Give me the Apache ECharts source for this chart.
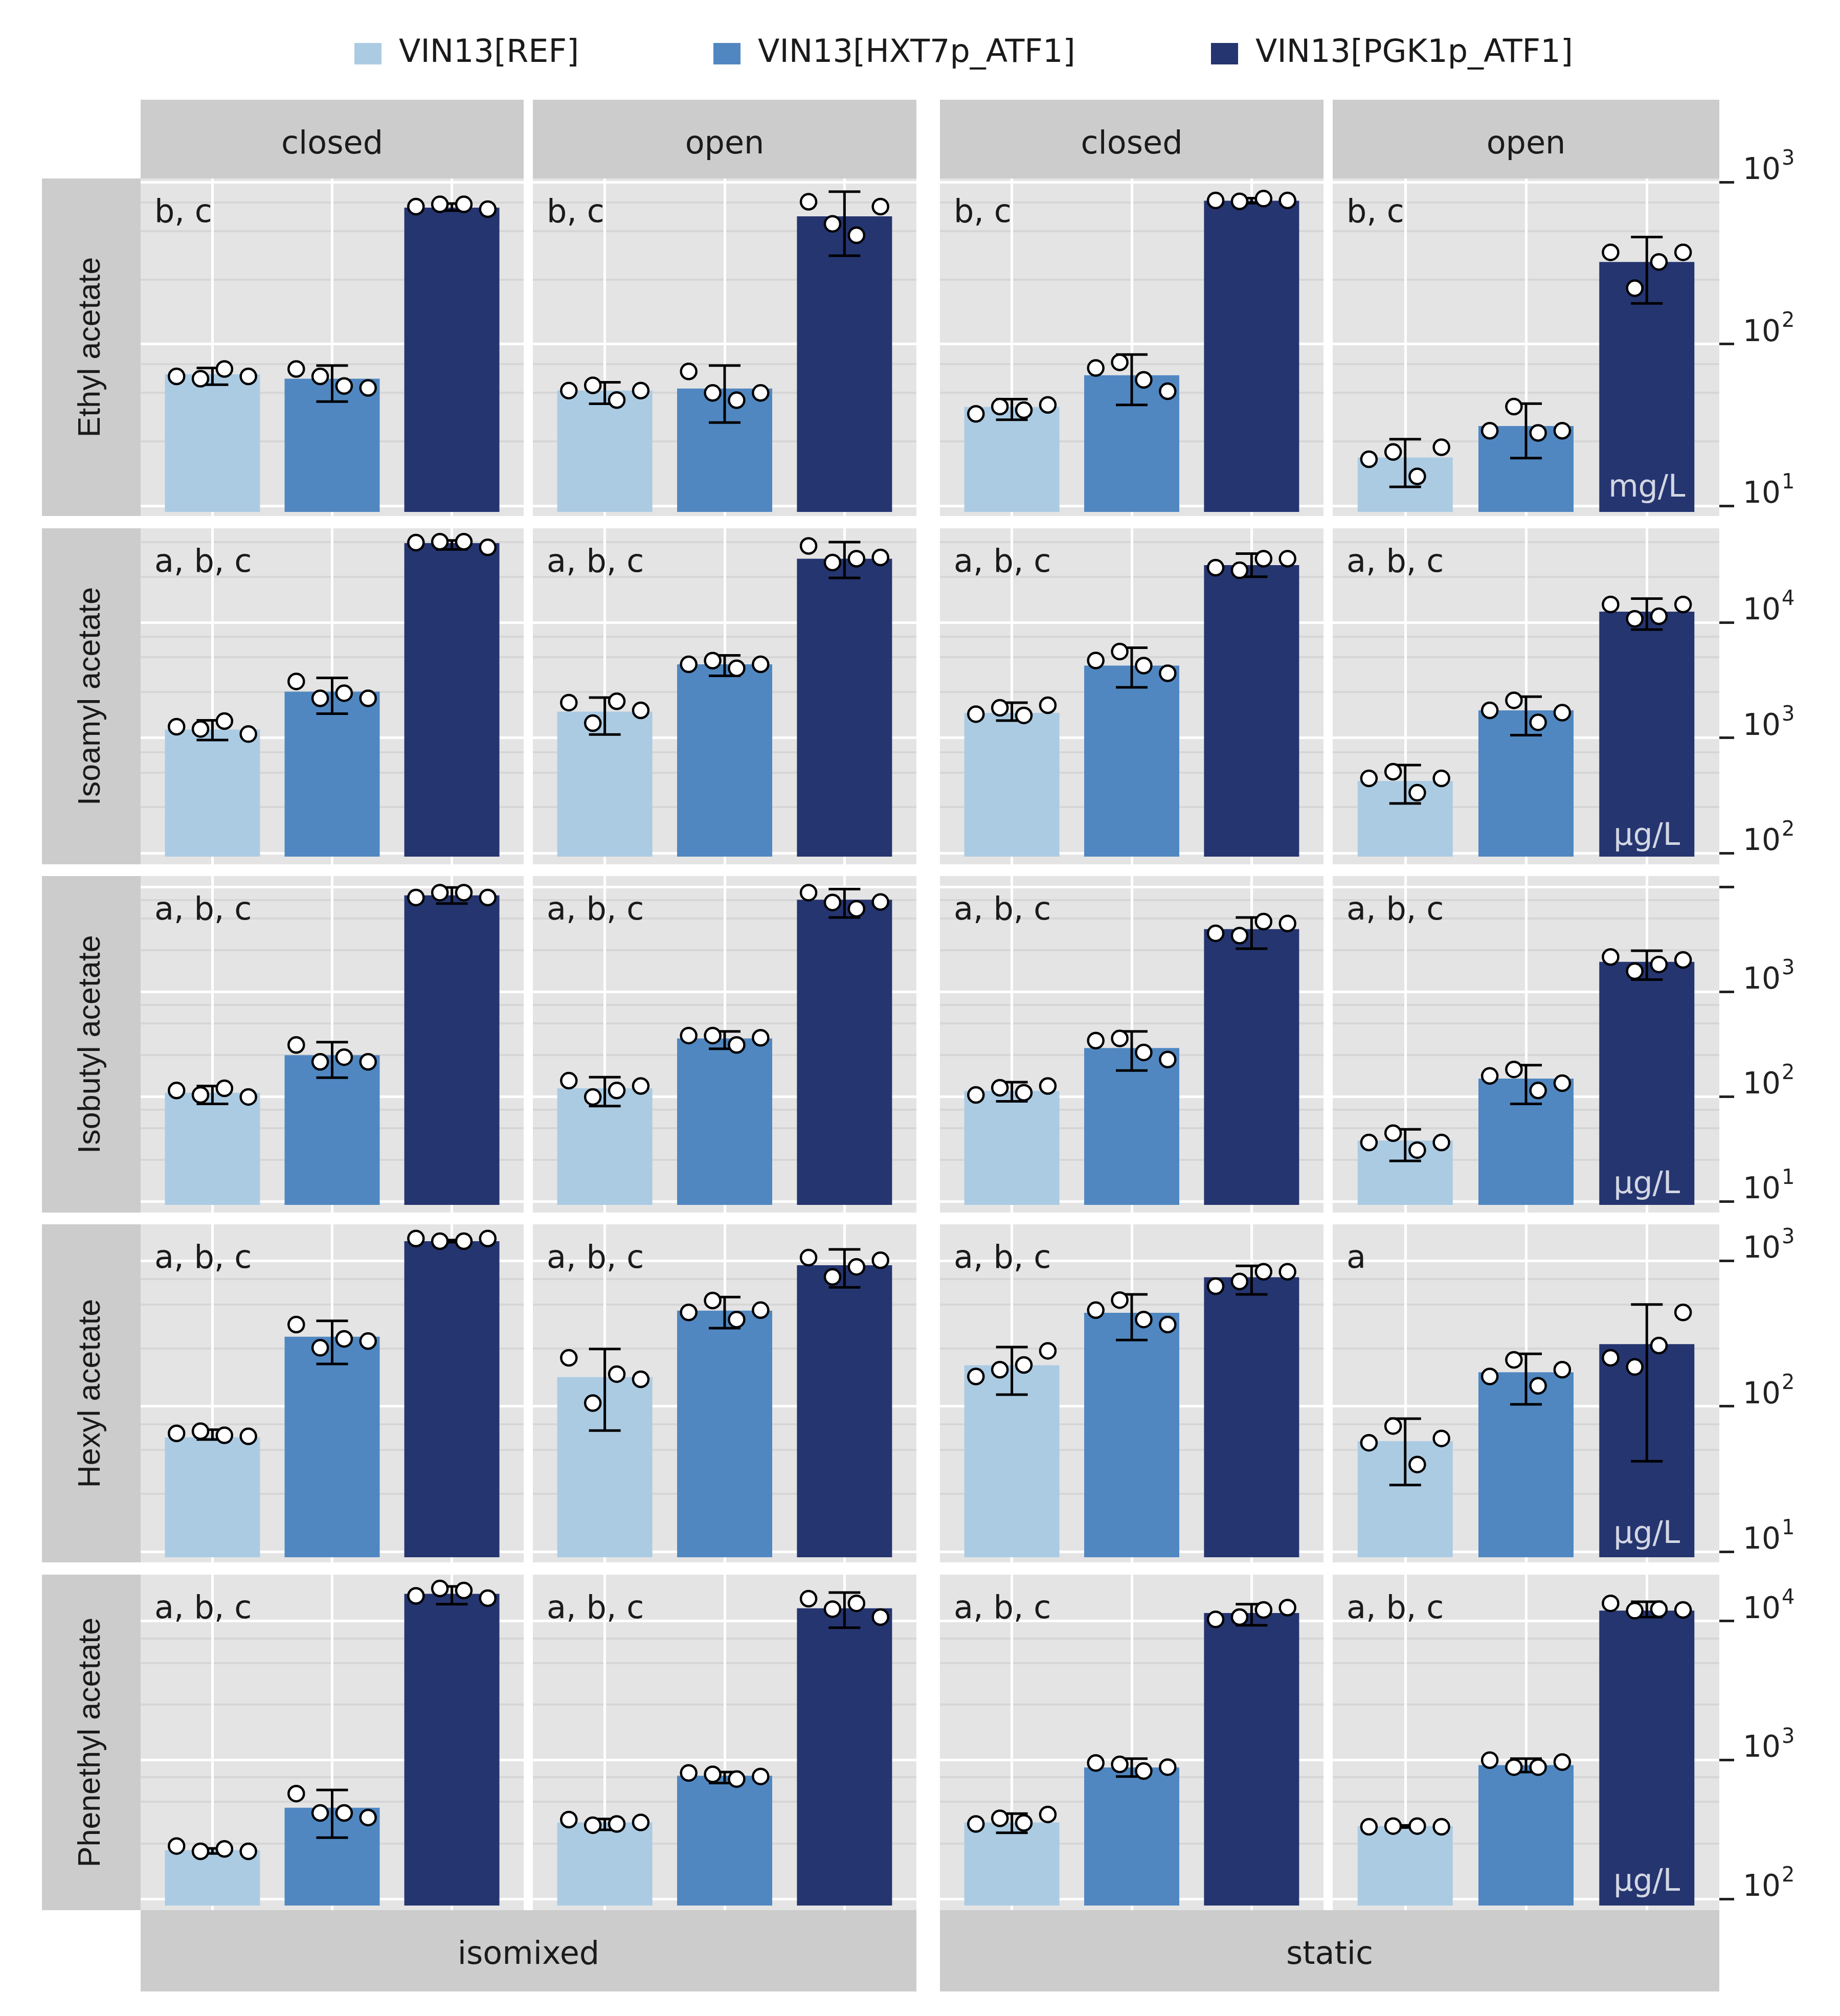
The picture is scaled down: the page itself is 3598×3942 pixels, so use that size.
<!DOCTYPE html>
<html><head><meta charset="utf-8">
<script src="https://cdn.jsdelivr.net/npm/echarts@6/dist/echarts.min.js"></script>
<style>html,body{margin:0;padding:0;background:#fff}#c{width:3598px;height:3942px}</style>
</head><body><div id="c"></div>
<script>
// ---------------- DATA ----------------
const compounds = ['Ethyl acetate', 'Isoamyl acetate', 'Isobutyl acetate', 'Hexyl acetate', 'Phenethyl acetate'];
const columnConditions = ['closed', 'open', 'closed', 'open'];
const modes = ['isomixed', 'static'];
const strains = ['VIN13[REF]', 'VIN13[HXT7p_ATF1]', 'VIN13[PGK1p_ATF1]'];
const units = ['mg/L', 'µg/L', 'µg/L', 'µg/L', 'µg/L'];
const letters = [
  ['b, c', 'b, c', 'b, c', 'b, c'],
  ['a, b, c', 'a, b, c', 'a, b, c', 'a, b, c'],
  ['a, b, c', 'a, b, c', 'a, b, c', 'a, b, c'],
  ['a, b, c', 'a, b, c', 'a, b, c', 'a'],
  ['a, b, c', 'a, b, c', 'a, b, c', 'a, b, c']
];
// tick exponents (10^n) per row, and which of them carry a label
const tickExponents = [[1, 2, 3], [2, 3, 4], [1, 2, 3, 4], [1, 2, 3], [2, 3, 4]];
const labeledExponents = [[1, 2, 3], [2, 3, 4], [1, 2, 3], [1, 2, 3], [2, 3, 4]];

// means per column [REF, HXT7, PGK1]; columns: isomixed-closed, isomixed-open, static-closed, static-open
const ethylMean = [[65, 61, 695], [51.5, 53, 614], [40.8, 64, 767], [19.9, 31.1, 321]];
const ethylLow  = [[56, 44, 666], [42.7, 32.7, 351], [34, 42, 740], [13.1, 19.7, 178]];
const ethylHigh = [[71, 73.6, 736], [58, 73.6, 873], [45.6, 86, 795], [25.8, 42.8, 457]];
const ethylPts  = [
  [[63, 61, 70, 63], [70, 63, 55, 53.5], [705, 728, 728, 680]],
  [[51.5, 55.5, 45, 51.5], [67.6, 49.8, 44.9, 49.8], [755, 552, 469, 705]],
  [[37, 41, 39, 42], [71, 77, 60, 51], [770, 760, 790, 770]],
  [[19.4, 21.5, 15.2, 23], [29.1, 41, 28.2, 29.1], [368, 221, 321, 368]]
];

const isoamylMean = [[1178, 2506, 48660], [1683, 4325, 35650], [1641, 4216, 31400], [422, 1727, 12400]];
const isoamylLow  = [[955, 1615, 43000], [1064, 3440, 24300], [1408, 2735, 24900], [269, 1052, 8670]];
const isoamylHigh = [[1415, 3304, 51300], [2229, 5180, 49700], [2013, 6030, 39500], [579, 2270, 16080]];
const isoamylPts  = [
  [[1244, 1190, 1393, 1075], [3076, 2195, 2432, 2195], [49200, 50100, 50100, 44700]],
  [[2014, 1337, 2070, 1727], [4325, 4660, 4000, 4325], [46000, 33040, 35650, 36570]],
  [[1600, 1815, 1560, 1910], [4670, 5590, 4216, 3620], [29800, 28300, 35650, 35650]],
  [[444, 507, 333, 444], [1727, 2108, 1359, 1649], [14290, 10740, 11300, 14290]]
];

const isobutylMean = [[108.6, 248, 8280], [119.7, 358, 7520], [113, 290, 3950], [38, 148, 1923]];
const isobutylLow  = [[85, 151, 6920], [81, 285, 5100], [90, 177, 2570], [24.3, 85, 1303]];
const isobutylHigh = [[126, 330, 9840], [153, 417, 9510], [137, 417, 5100], [48.6, 199, 2455]];
const isobutylPts  = [
  [[114, 103.5, 119.7, 99], [310, 214, 237, 214], [7900, 8790, 8790, 7900]],
  [[141.5, 99, 114, 126], [381, 381, 310, 363], [8790, 7080, 6170, 7160]],
  [[103.5, 121, 108.6, 126], [341, 358, 263, 225], [3600, 3420, 4650, 4460]],
  [[36.4, 44.7, 30.8, 36.4], [157, 181, 114, 134], [2140, 1567, 1815, 2005]]
];

const hexylMean = [[61, 300, 1361], [158.5, 454, 930], [191, 438, 769], [57.5, 171, 267]];
const hexylLow  = [[59, 195, 1340], [68, 344, 656], [120, 285, 586], [28.7, 103, 41.8]];
const hexylHigh = [[68.9, 386, 1385], [247, 562, 1195], [255, 586, 922], [82, 229, 500]];
const hexylPts  = [
  [[65, 67.3, 63, 62], [364, 252, 290, 280], [1421, 1361, 1361, 1421]],
  [[215, 105, 166, 153], [441, 532, 394, 457], [1050, 774, 907, 1007]],
  [[160, 178, 192, 240], [457, 536, 394, 364], [668, 720, 839, 839]],
  [[56, 73, 39.7, 60], [160, 208, 138, 178], [215, 186, 261, 441]]
];

const phenethylMean = [[224, 453, 15660], [355, 769, 12330], [355, 883, 11400], [334, 916, 11860]];
const phenethylLow  = [[212, 276, 13200], [314, 682, 8940], [299, 760, 9300], [326, 818, 10660]];
const phenethylHigh = [[231, 608, 17700], [376, 818, 16020], [411, 1021, 13200], [338, 1021, 13730]];
const phenethylPts  = [
  [[240, 220, 229, 220], [572, 415, 415, 385], [15140, 17110, 16540, 14580]],
  [[372, 339, 346, 355], [806, 787, 728, 760], [14450, 12160, 13380, 10660]],
  [[346, 380, 352, 405], [950, 929, 832, 887], [10250, 10660, 12000, 12460]],
  [[330, 334, 334, 330], [996, 887, 887, 964], [13380, 11860, 12160, 12000]]
];

const allMean = [ethylMean, isoamylMean, isobutylMean, hexylMean, phenethylMean];
const allLow  = [ethylLow, isoamylLow, isobutylLow, hexylLow, phenethylLow];
const allHigh = [ethylHigh, isoamylHigh, isobutylHigh, hexylHigh, phenethylHigh];
const allPts  = [ethylPts, isoamylPts, isobutylPts, hexylPts, phenethylPts];

// ---------------- LAYOUT / STYLE ----------------
const COLORS = ['#abcbe3', '#5087c1', '#253570'];
const PANEL = '#e4e4e4', STRIP = '#cccccc', MINOR = '#d6d6d6', TXT = '#1a1a1a';
const FONT = 'DejaVu Sans', ROTFONT = 'Liberation Sans';
const colLeft = [275, 1042, 1838, 2606];
const colWidth = [749, 750, 750, 756];
const rowTop = [349, 1033, 1713, 2394, 3079];
const rowBottom = [1009, 1690, 2371, 3055, 3735];
const rowLogMin = [0.937, 1.902, 0.893, 0.926, 1.919];
const rowLogMax = [3.022, 4.816, 4.102, 3.25, 4.333];
const rowBarBase = [0.962, 1.969, 0.966, 0.961, 1.952]; // log10 of bar baseline (bars stop just above panel bottom)
const jitter = [-0.3, -0.1, 0.1, 0.3];
const minorMult = [2.5, 5, 7.5];

const option = {
  animation: false, backgroundColor: '#fff',
  textStyle: { fontFamily: FONT },
  grid: [], xAxis: [], yAxis: [], series: [], legend: [], graphic: []
};

function addGrid(gridOpt, xOpt, yOpt) {
  const g = option.grid.length;
  option.grid.push(gridOpt);
  option.xAxis.push(Object.assign({ gridIndex: g }, xOpt));
  option.yAxis.push(Object.assign({ gridIndex: g }, yOpt));
  return g;
}

function errRender(params, api) {
  const x = api.value(0), lo = api.value(1), hi = api.value(2);
  const a = api.coord([x, lo]), b = api.coord([x, hi]);
  const hw = 31, st = { stroke: '#000', lineWidth: 5 };
  return { type: 'group', children: [
    { type: 'line', shape: { x1: a[0], y1: a[1], x2: b[0], y2: b[1] }, style: st },
    { type: 'line', shape: { x1: b[0] - hw, y1: b[1], x2: b[0] + hw, y2: b[1] }, style: st },
    { type: 'line', shape: { x1: a[0] - hw, y1: a[1], x2: a[0] + hw, y2: a[1] }, style: st }
  ]};
}

for (let r = 0; r < 5; r++) {
  const lo = rowLogMin[r], hi = rowLogMax[r];
  const minors = [];
  for (let d = Math.floor(lo); d <= Math.ceil(hi); d++) {
    minorMult.forEach(m => { const v = m * Math.pow(10, d); const l = Math.log10(v); if (l > lo && l < hi) minors.push(v); });
  }
  for (let c = 0; c < 4; c++) {
    const g = addGrid(
      { left: colLeft[c], top: rowTop[r], width: colWidth[c], height: rowBottom[r] - rowTop[r], show: true, backgroundColor: PANEL, borderWidth: 0 },
      { type: 'value', min: -0.6, max: 2.6, show: false },
      { type: 'log', logBase: 10, min: Math.pow(10, lo), max: Math.pow(10, hi), startValue: Math.pow(10, rowBarBase[r]), show: false });

    for (let k = 0; k < 3; k++) {
      option.series.push({ type: 'bar', name: strains[k], xAxisIndex: g, yAxisIndex: g,
        data: [[k, allMean[r][c][k]]], barWidth: 186, barGap: '-100%', clip: true, silent: true,
        itemStyle: { color: COLORS[k] }, z: 2 });
    }
    option.series.push({ type: 'custom', xAxisIndex: g, yAxisIndex: g, silent: true, z: 4, clip: false,
      encode: { x: 0, y: [1, 2] }, renderItem: errRender,
      data: [0, 1, 2].map(k => [k, allLow[r][c][k], allHigh[r][c][k]]) });

    const pts = [];
    for (let k = 0; k < 3; k++) allPts[r][c][k].forEach((v, j) => pts.push([k + jitter[j], v]));
    const ml = [];
    minors.forEach(v => ml.push({ yAxis: v, lineStyle: { color: MINOR, width: 4, type: 'solid' } }));
    tickExponents[r].forEach(e => ml.push({ yAxis: Math.pow(10, e), lineStyle: { color: '#ffffff', width: 5, type: 'solid' } }));
    [0, 1, 2].forEach(x => ml.push({ xAxis: x, lineStyle: { color: '#ffffff', width: 5, type: 'solid' } }));
    option.series.push({ type: 'scatter', xAxisIndex: g, yAxisIndex: g, silent: true, z: 5,
      symbol: 'circle', symbolSize: 30, data: pts,
      itemStyle: { color: '#ffffff', borderColor: '#000000', borderWidth: 4.5, opacity: 1 },
      markLine: { silent: true, z: 1, symbol: ['none', 'none'], label: { show: false }, animation: false, data: ml } });

    if (c === 3) {
      option.series.push({ type: 'scatter', xAxisIndex: g, yAxisIndex: g, silent: true, z: 6, clip: false,
        symbolSize: 2, itemStyle: { color: 'rgba(0,0,0,0)' }, data: [[2, Math.pow(10, lo)]],
        label: { show: true, position: 'top', distance: 24, formatter: units[r], color: '#ffffff',
          fontSize: 60, fontFamily: FONT, lineHeight: 58 } });
    }
    option.graphic.push({ type: 'text', x: colLeft[c] + 27, y: rowTop[r] + 38, silent: true, z: 10,
      style: { text: letters[r][c], fill: TXT, fontSize: 62, fontFamily: FONT, align: 'left', verticalAlign: 'top' } });
  }
}

// right axis (ticks + labels) on a thin helper grid per row spanning its decades
for (let r = 0; r < 5; r++) {
  const lo = rowLogMin[r], hi = rowLogMax[r];
  const H = rowBottom[r] - rowTop[r], span = hi - lo;
  const eMin = tickExponents[r][0], eMax = tickExponents[r][tickExponents[r].length - 1];
  const pTop = rowTop[r] + (hi - eMax) / span * H, pBot = rowTop[r] + (hi - eMin) / span * H;
  const lab = labeledExponents[r];
  addGrid({ left: 3361, top: pTop, width: 1, height: pBot - pTop, show: false },
    { type: 'value', min: 0, max: 1, show: false },
    { type: 'log', logBase: 10, min: Math.pow(10, eMin), max: Math.pow(10, eMax),
      position: 'right', axisLine: { show: false }, splitLine: { show: false },
      axisTick: { show: true, length: 30, lineStyle: { color: '#222', width: 5 } },
      axisLabel: { show: true, margin: 46, verticalAlign: 'bottom', align: 'left', color: '#222',
        formatter: v => { const e = Math.round(Math.log10(v)); return lab.includes(e) ? '{w| }{s|' + e + '}\n{b|10}' : ''; },
        rich: {
          w: { width: 76, fontSize: 40, lineHeight: 4 },
          s: { fontSize: 40, fontFamily: FONT, color: '#222', lineHeight: 4 },
          b: { fontSize: 58, fontFamily: FONT, color: '#222', lineHeight: 42 }
        } } });
}

// legend (one component per strain to place each entry like the reference)
const legendLeft = [693, 1395, 2368];
strains.forEach((s, k) => option.legend.push({ data: [s], left: legendLeft[k], top: 74, padding: 0,
  itemWidth: 53, itemHeight: 42, icon: 'rect', selectedMode: false,
  textStyle: { fontSize: 62, color: TXT, fontFamily: FONT, padding: [30, 0, 0, 29] } }));

// strips
for (let c = 0; c < 4; c++) {
  option.graphic.push({ type: 'rect', silent: true, shape: { x: colLeft[c], y: 195, width: colWidth[c], height: 154 }, style: { fill: STRIP } });
  option.graphic.push({ type: 'text', silent: true, x: colLeft[c] + colWidth[c] / 2, y: 284,
    style: { text: columnConditions[c], fill: TXT, fontSize: 62, fontFamily: FONT, align: 'center', verticalAlign: 'middle' } });
}
for (let r = 0; r < 5; r++) {
  option.graphic.push({ type: 'rect', silent: true, shape: { x: 82, y: rowTop[r], width: 193, height: rowBottom[r] - rowTop[r] }, style: { fill: STRIP } });
  option.graphic.push({ type: 'text', silent: true, x: 178, y: (rowTop[r] + rowBottom[r]) / 2, rotation: Math.PI / 2,
    style: { text: compounds[r], fill: TXT, fontSize: 61, fontFamily: ROTFONT, align: 'center', verticalAlign: 'middle' } });
}
const modeSpan = [[colLeft[0], colLeft[1] + colWidth[1]], [colLeft[2], colLeft[3] + colWidth[3]]];
modeSpan.forEach((sp, i) => {
  option.graphic.push({ type: 'rect', silent: true, shape: { x: sp[0], y: 3735, width: sp[1] - sp[0], height: 159 }, style: { fill: STRIP } });
  option.graphic.push({ type: 'text', silent: true, x: (sp[0] + sp[1]) / 2, y: 3824,
    style: { text: modes[i], fill: TXT, fontSize: 62, fontFamily: FONT, align: 'center', verticalAlign: 'middle' } });
});

const chart = echarts.init(document.getElementById('c'), null, { renderer: 'canvas' });
chart.setOption(option);
</script></body></html>
